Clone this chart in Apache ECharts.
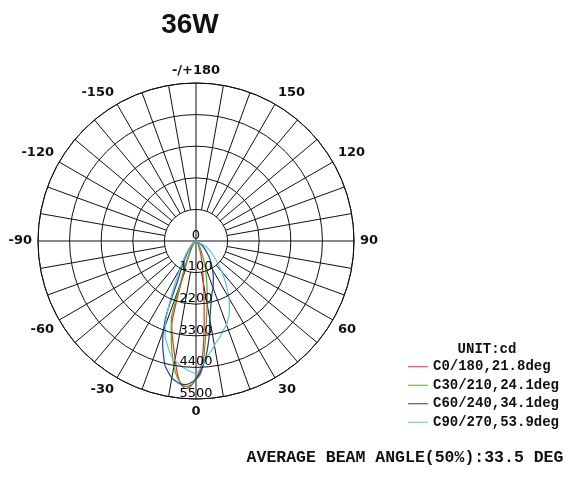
<!DOCTYPE html>
<html>
<head>
<meta charset="utf-8">
<script src="https://cdn.jsdelivr.net/npm/echarts@6/dist/echarts.min.js"></script>
<style>
  html, body { margin: 0; padding: 0; background: #fff; }
  #chart { width: 567px; height: 477px; }
</style>
</head>
<body>
<div id="chart"></div>
<script>
// Gamma angles (deg): negative = left half-plane (C180/C210/C240/C270), positive = right half-plane
const gammaDeg = [-90, -60, -50, -40, -35, -30, -25, -22, -20, -18, -16, -14, -12, -10, -8, -6, -4, -2,
                  0, 2, 4, 6, 8, 10, 12, 14, 16, 18, 20, 22, 25, 30, 35, 40, 50, 60, 90];

// Luminous intensity (cd) per C-plane
const intensityC0 = [0, 20, 70, 140, 210, 350, 630, 970, 1390, 2160, 3060, 3410, 3760, 4180, 4660, 5010, 5150, 5050,
                     4770, 4460, 3690, 2720, 2020, 1460, 1150, 940, 770, 590, 490, 380, 280, 170, 100, 70, 35, 0, 0];
const intensityC30 = [0, 35, 100, 170, 280, 420, 770, 1180, 1640, 2720, 3130, 3550, 4000, 4420, 4770, 4980, 5080, 5010,
                      4840, 4630, 4000, 3240, 2650, 2230, 1880, 1570, 1320, 1110, 910, 730, 520, 310, 210, 140, 70, 35, 0];
const intensityC60 = [0, 70, 170, 350, 560, 910, 1460, 2720, 3310, 3760, 4110, 4460, 4660, 4840, 4940, 5010, 5010, 4940,
                      4800, 4560, 4210, 3790, 3310, 2780, 2440, 2190, 1980, 1840, 1740, 1600, 1430, 1150, 910, 700, 350, 140, 0];
const intensityC90 = [0, 100, 210, 450, 700, 1110, 1910, 2650, 3130, 3480, 3690, 3900, 4110, 4210, 4320, 4420, 4490, 4560,
                      4630, 4420, 4210, 4000, 3860, 3690, 3550, 3450, 3310, 3200, 3100, 2960, 2750, 2300, 1810, 1390, 800, 420, 0];

const planeNames = ['C0/180,21.8deg', 'C30/210,24.1deg', 'C60/240,34.1deg', 'C90/270,53.9deg'];
const planeColors = ['#f52a2a', '#4cb21c', '#1f3d9e', '#5cc6dc'];

// Radial scale (cd)
const radiusMax = 5500;
const radiusStep = 1100;

const titleText = '36W';
const unitText = 'UNIT:cd';
const beamText = 'AVERAGE BEAM ANGLE(50%):33.5 DEG';

// Layout
const CX = 196, CY = 241, R = 158;
const HUB = R * radiusStep / radiusMax;

const chart = echarts.init(document.getElementById('chart'), null, { renderer: 'canvas' });

// angle axis runs 0..360 starting at the bottom, counter-clockwise
function toPolarData(values) {
  return gammaDeg.map((g, i) => [values[i], g < 0 ? g + 360 : g]);
}

const planeValues = [intensityC0, intensityC30, intensityC60, intensityC90];

const gridColor = '#111';

chart.setOption({
  animation: false,
  backgroundColor: '#fff',
  polar: { center: [CX, CY], radius: R },
  angleAxis: {
    type: 'value',
    min: 0,
    max: 360,
    interval: 10,
    startAngle: 270,
    clockwise: false,
    z: 0,
    axisLine: { show: true, lineStyle: { color: gridColor, width: 1 } },
    axisTick: { show: false },
    splitLine: { show: true, lineStyle: { color: gridColor, width: 1 } },
    axisLabel: {
      margin: 6,
      color: '#111',
      fontFamily: 'DejaVu Sans',
      fontWeight: 'bold',
      fontSize: 13,
      formatter: function (v) {
        const a = Math.round(v);
        if (a % 30 !== 0 || a === 360) return '';
        if (a === 180) return '-/+180';
        return a > 180 ? '-' + (360 - a) : String(a);
      }
    }
  },
  radiusAxis: {
    type: 'value',
    min: 0,
    max: radiusMax,
    interval: radiusStep,
    z: 3,
    axisLine: { show: false },
    axisTick: { show: false },
    splitLine: { show: true, lineStyle: { color: gridColor, width: 1 } },
    axisLabel: {
      margin: 0,
      align: 'center',
      verticalAlign: 'bottom',
      lineHeight: 11,
      color: '#000',
      fontFamily: 'DejaVu Sans',
      fontSize: 13,
      formatter: function (v) { return String(Math.round(v)); }
    }
  },
  legend: {
    orient: 'vertical',
    left: 408,
    top: 358.5,
    padding: 0,
    icon: 'rect',
    itemWidth: 20,
    itemHeight: 1,
    itemGap: 2,
    selectedMode: false,
    data: planeNames,
    textStyle: {
      fontFamily: 'Liberation Mono',
      fontWeight: 'bold',
      fontSize: 14,
      lineHeight: 16.5,
      color: '#111'
    }
  },
  graphic: [
    // plain hub: only the main axes cross it
    { type: 'circle', z: 1, silent: true, shape: { cx: CX, cy: CY, r: HUB }, style: { fill: '#fff' } },
    { type: 'line', z: 1, silent: true, shape: { x1: CX - HUB, y1: CY, x2: CX + HUB, y2: CY }, style: { stroke: gridColor, lineWidth: 1 } },
    { type: 'line', z: 1, silent: true, shape: { x1: CX, y1: CY - HUB, x2: CX, y2: CY + HUB }, style: { stroke: gridColor, lineWidth: 1 } },
    { type: 'text', x: 190, y: 25, silent: true,
      style: { text: titleText, fill: '#111', font: 'bold 28px "Liberation Sans"', align: 'center', verticalAlign: 'middle' } },
    { type: 'text', x: 487, y: 349, silent: true,
      style: { text: unitText, fill: '#111', font: 'bold 14px "Liberation Mono"', align: 'center', verticalAlign: 'middle' } },
    { type: 'text', x: 405, y: 458, silent: true,
      style: { text: beamText, fill: '#111', font: 'bold 16.5px "Liberation Mono"', align: 'center', verticalAlign: 'middle' } }
  ],
  series: planeNames.map((name, i) => ({
    type: 'line',
    name: name,
    coordinateSystem: 'polar',
    data: toPolarData(planeValues[i]),
    showSymbol: false,
    smooth: 0.25,
    z: 2,
    itemStyle: { color: planeColors[i] },
    lineStyle: { color: planeColors[i], width: 1.2 }
  }))
});
</script>
</body>
</html>
